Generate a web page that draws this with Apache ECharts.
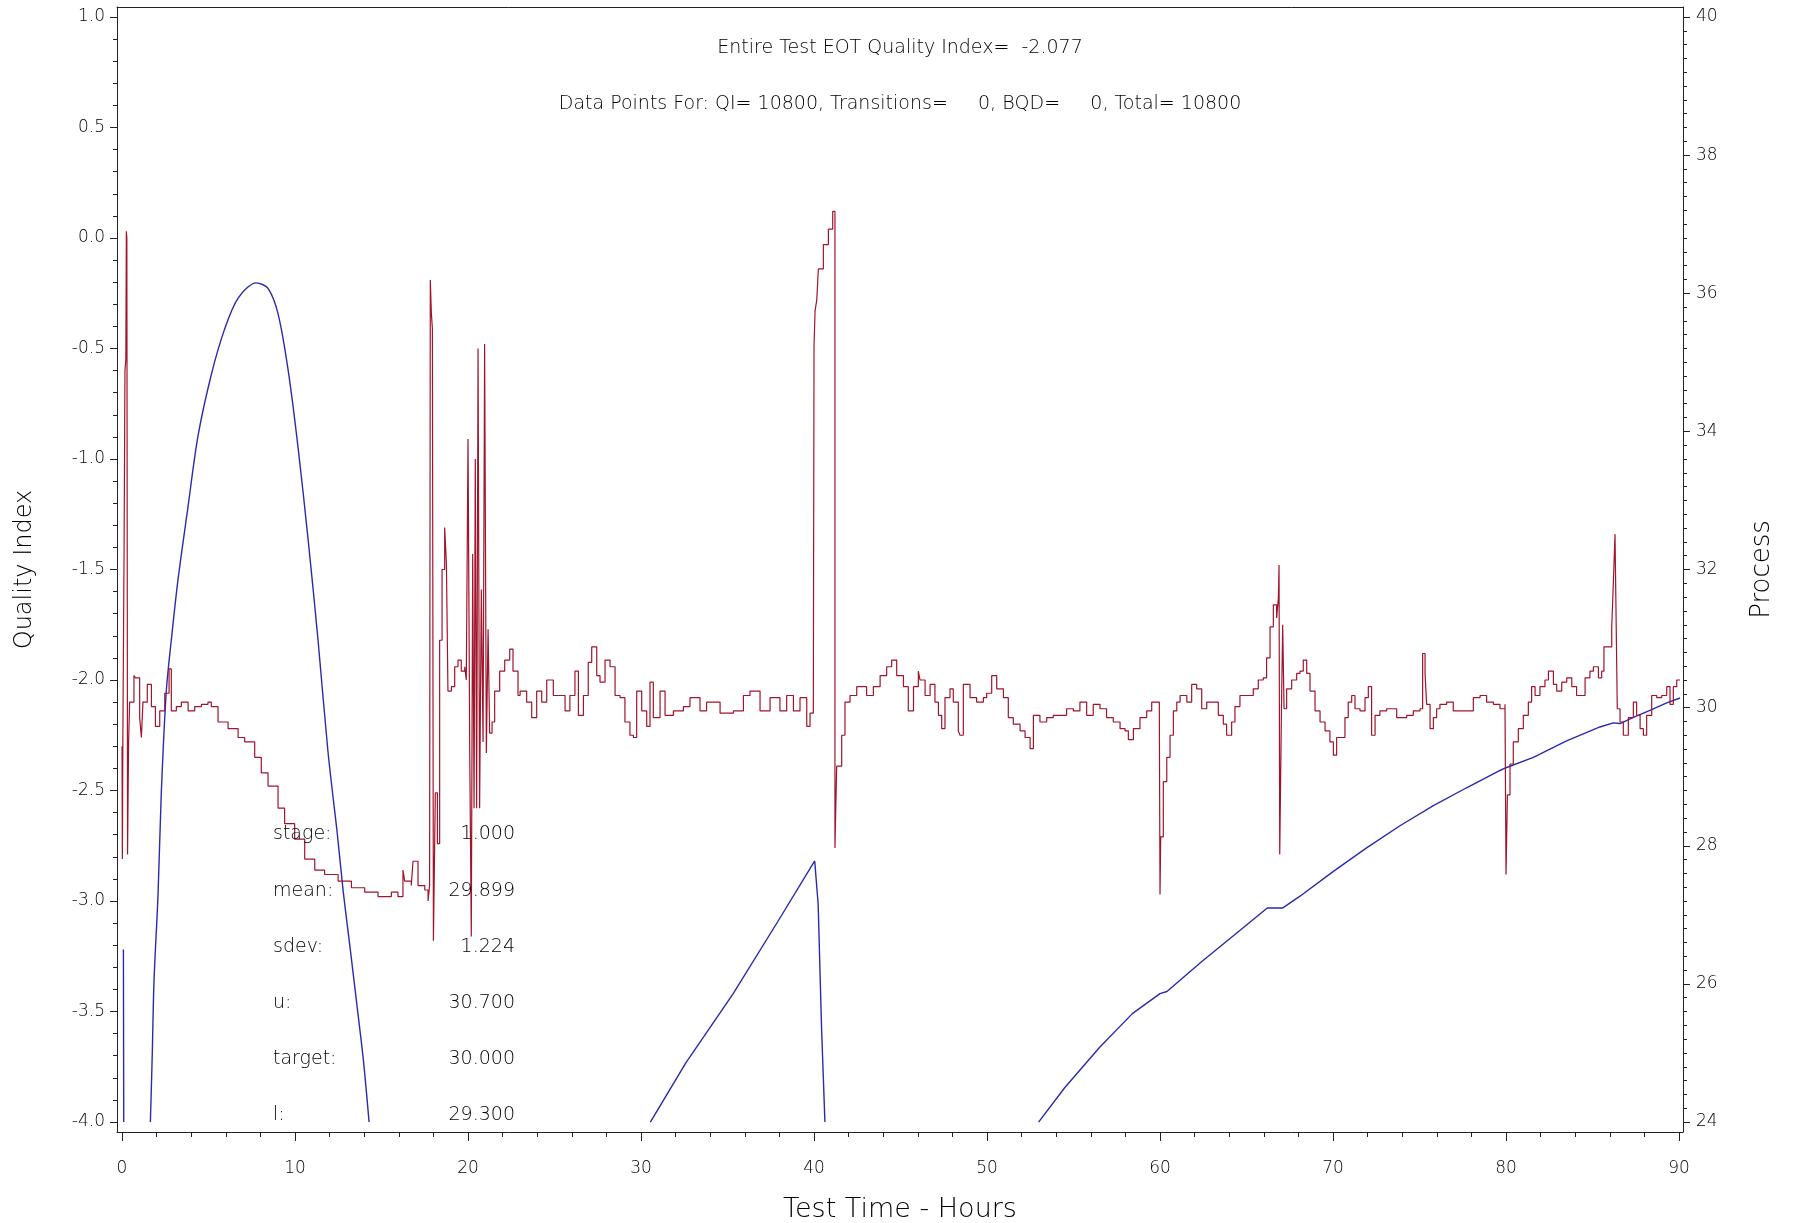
<!DOCTYPE html>
<html>
<head>
<meta charset="utf-8">
<script src="https://cdn.jsdelivr.net/npm/echarts@6.0.0/dist/echarts.min.js"></script>
<style>
html,body{margin:0;padding:0;background:#fff;}
#chart{width:1794px;height:1223px;}
</style>
</head>
<body>
<div id="chart"></div>
<script>
// ---------- data ----------
const xTickLabels = [0, 10, 20, 30, 40, 50, 60, 70, 80, 90];
const qiTickLabels = [-4.0, -3.5, -3.0, -2.5, -2.0, -1.5, -1.0, -0.5, 0.0, 0.5, 1.0];
const procTickLabels = [24, 26, 28, 30, 32, 34, 36, 38, 40];

const titleLine1 = 'Entire Test EOT Quality Index=  -2.077';
const titleLine2 = 'Data Points For: QI= 10800, Transitions=     0, BQD=     0, Total= 10800';

const statNames = ['stage:', 'mean:', 'sdev:', 'u:', 'target:', 'l:'];
const statValues = ['1.000', '29.899', '1.224', '30.700', '30.000', '29.300'];

// Quality index (left axis) – hours and values
const qiHours = [0.0,0.02,0.05,0.12,0.17,0.22,0.25,0.28,0.32,0.38,
0.44,0.69,0.77,1.02,1.12,1.21,1.46,1.70,1.93,2.18,2.47,2.72,2.85,3.14,3.43,3.82,4.20,4.59,4.97,5.16,5.55,6.13,6.71,7.09,7.67,8.05,8.44,9.02,9.40,9.98,10.56,11.14,11.71,12.49,13.26,14.03,14.80,15.57,15.95,16.24,16.34,16.72,16.82,17.11,17.50,17.69,17.78,17.82,17.88,17.94,18.00,18.11,18.23,18.36,18.50,18.65,18.75,18.84,19.04,19.23,19.42,19.61,19.81,19.90,20.00,20.10,20.19,20.27,20.35,20.42,20.50,20.58,20.67,20.77,20.87,20.96,21.06,21.16,21.25,21.39,21.54,21.83,22.12,22.41,22.60,22.89,
23.01,23.39,23.68,23.97,24.26,24.55,24.93,25.32,25.61,25.89,26.18,26.38,26.67,26.95,27.15,27.44,27.63,27.92,28.21,28.50,28.79,29.07,29.36,29.56,29.75,30.04,30.33,30.52,30.71,31.10,31.39,31.87,32.45,32.83,33.41,33.79,34.57,35.34,35.92,36.30,36.88,37.46,38.03,38.42,38.81,39.19,39.58,39.77,39.96,40.00,40.06,40.16,40.25,40.54,40.83,41.08,41.16,41.21,41.31,41.60,41.79,42.08,42.47,43.04,43.43,43.82,44.20,44.49,44.78,45.17,45.45,45.75,46.03,
46.13,46.42,46.71,46.99,47.19,47.38,47.57,47.86,48.05,48.34,48.44,48.63,49.02,49.40,49.79,49.98,50.27,50.56,50.95,51.23,51.52,51.91,52.20,52.49,52.68,53.06,53.45,53.83,54.22,54.60,54.99,55.37,55.76,56.14,56.53,56.91,57.30,57.69,57.98,58.17,58.46,58.84,59.23,59.52,59.81,59.96,60.00,60.04,60.19,60.39,60.58,60.77,60.97,61.16,61.55,61.83,62.12,62.41,62.70,63.08,63.37,63.66,63.85,64.14,64.33,64.62,65.01,65.39,65.68,65.97,66.16,66.36,66.55,66.74,66.84,66.88,66.92,67.01,67.09,67.17,67.32,67.61,67.90,
68.09,68.28,68.48,68.67,68.96,69.25,69.54,69.82,70.02,70.21,70.50,70.69,70.88,71.08,71.27,71.56,71.85,72.04,72.23,72.43,72.71,73.10,73.68,74.26,74.64,75.03,75.18,75.32,75.41,75.61,75.80,75.99,76.18,76.57,76.95,77.34,77.73,78.11,78.50,78.88,79.27,79.65,79.94,80.00,80.08,80.23,80.42,80.71,81.00,81.29,81.48,81.68,81.96,82.25,82.45,82.74,82.93,83.22,83.51,83.80,84.08,84.37,84.57,84.85,85.05,85.34,85.53,85.66,85.91,86.11,86.20,86.30,86.40,86.43,86.59,86.78,87.07,87.36,87.55,87.75,87.94,88.13,88.42,88.71,89.00,89.29,89.48,89.67,89.87,90.06];

const qiValues = [-2.30,-2.81,-2.25,-1.40,-0.60,-0.55,0.03,0.00,-2.79,-2.28,
-2.10,-1.98,-1.99,-2.17,-2.26,-2.10,-2.02,-2.12,-2.21,-2.14,-2.06,-1.95,-2.14,-2.12,-2.10,-2.14,-2.12,-2.11,-2.10,-2.12,-2.19,-2.22,-2.26,-2.28,-2.35,-2.42,-2.48,-2.58,-2.65,-2.72,-2.81,-2.86,-2.88,-2.91,-2.94,-2.96,-2.98,-2.96,-2.98,-2.86,-2.91,-2.93,-2.82,-2.93,-2.95,-3.00,-2.93,-0.19,-0.34,-0.41,-3.18,-2.51,-2.74,-1.82,-1.50,-1.31,-1.47,-2.05,-2.03,-1.94,-1.91,-1.96,-1.94,-2.00,-0.91,-2.33,-3.16,-1.43,-2.58,-1.00,-2.58,-0.50,-2.58,-1.59,-2.28,-0.48,-2.33,-1.77,-2.24,-2.19,-2.05,-1.96,-1.91,-1.86,-1.96,-2.07,
-2.05,-2.10,-2.17,-2.05,-2.10,-2.00,-2.07,-2.07,-2.14,-2.07,-1.96,-2.16,-2.07,-1.92,-1.85,-1.98,-2.01,-1.91,-1.94,-2.07,-2.08,-2.19,-2.25,-2.26,-2.05,-2.14,-2.21,-2.01,-2.17,-2.05,-2.16,-2.14,-2.12,-2.08,-2.14,-2.10,-2.15,-2.14,-2.07,-2.05,-2.14,-2.08,-2.14,-2.07,-2.14,-2.08,-2.21,-2.15,-2.14,-0.49,-0.33,-0.28,-0.14,-0.03,0.04,0.12,0.12,-2.76,-2.39,-2.25,-2.10,-2.07,-2.03,-2.07,-2.03,-1.98,-1.94,-1.91,-1.98,-2.03,-2.14,-2.03,-1.96,
-2.00,-2.07,-2.02,-2.10,-2.16,-2.22,-2.08,-2.04,-2.10,-2.23,-2.25,-2.02,-2.08,-2.10,-2.08,-2.06,-1.98,-2.04,-2.08,-2.17,-2.20,-2.23,-2.26,-2.31,-2.16,-2.19,-2.17,-2.16,-2.16,-2.13,-2.14,-2.10,-2.16,-2.11,-2.13,-2.17,-2.19,-2.22,-2.23,-2.27,-2.22,-2.17,-2.14,-2.10,-2.10,-2.15,-2.97,-2.71,-2.46,-2.35,-2.25,-2.14,-2.10,-2.07,-2.10,-2.02,-2.04,-2.13,-2.10,-2.10,-2.16,-2.20,-2.25,-2.19,-2.12,-2.07,-2.07,-2.04,-2.00,-1.99,-1.90,-1.76,-1.66,-1.72,-1.63,-1.48,-2.79,-2.19,-1.75,-2.13,-2.04,-2.00,-1.97,
-1.96,-1.91,-1.97,-2.05,-2.14,-2.19,-2.23,-2.28,-2.34,-2.26,-2.26,-2.17,-2.10,-2.07,-2.13,-2.14,-2.08,-2.03,-2.25,-2.16,-2.14,-2.13,-2.17,-2.16,-2.14,-2.13,-1.88,-1.97,-2.11,-2.22,-2.17,-2.13,-2.11,-2.10,-2.14,-2.14,-2.14,-2.08,-2.07,-2.10,-2.11,-2.13,-2.11,-2.88,-2.52,-2.38,-2.28,-2.22,-2.16,-2.10,-2.03,-2.07,-2.03,-2.00,-1.96,-2.02,-2.05,-2.01,-1.99,-2.03,-2.07,-2.07,-1.99,-1.96,-1.94,-1.99,-1.96,-1.85,-1.85,-1.76,-1.57,-1.34,-1.94,-2.13,-2.19,-2.25,-2.17,-2.10,-2.16,-2.22,-2.25,-2.16,-2.07,-2.08,-2.07,-2.03,-2.11,-2.03,-2.00,-2.00];

// Process (right axis) – the curved warm-up arc, hours and values
const procArcHours = [1.64,1.75,1.85,2.08,2.27,2.56,2.85,3.24,3.81,4.39,5.16,5.93,6.71,7.76,8.44,9.02,9.60,10.17,10.75,11.33,11.91,12.45,12.79,13.18,13.57,13.95,14.28];
const procArcValues = [24.0,25.0,26.05,27.28,28.76,30.24,30.98,31.86,32.90,33.93,34.82,35.48,35.93,36.15,36.07,35.70,34.89,33.78,32.45,30.98,29.35,28.16,27.33,26.53,25.71,24.9,24.0];
// Process – remaining segments; null = off the bottom of the scale
const procHours = [0.08,0.10,null,
30.54,32.6,35.3,37.9,40.04,40.24,40.44,40.63,null,
52.98,54.5,56.5,58.4,60.0,60.4,62.4,64.4,66.2,67.1,68.09,70.02,71.94,73.87,75.8,77.72,79.65,80.0,81.58,83.5,85.43,86.2,86.59,87.36,88.32,89.29,90.06];
const procValues = [26.5,24.0,null,
24.0,24.86,25.85,26.90,27.78,27.15,25.33,24.0,null,
24.0,24.5,25.08,25.57,25.86,25.89,26.32,26.73,27.1,27.1,27.27,27.63,27.97,28.29,28.58,28.84,29.09,29.13,29.28,29.52,29.72,29.78,29.77,29.86,29.96,30.07,30.14];

// ---------- build ----------
const qiData = qiHours.map((h, i) => [h, qiValues[i]]);
const procArcData = procArcHours.map((h, i) => [h, procArcValues[i]]);
const procData = procHours.map((h, i) => (h === null ? [null, null] : [h, procValues[i]]));

function steps(lo, hi, step, exclude) {
  const out = [];
  const n = Math.round((hi - lo) / step);
  for (let i = 0; i <= n; i++) {
    const v = +(lo + i * step).toFixed(4);
    if (!exclude.some(e => Math.abs(e - v) < 1e-6)) out.push(v);
  }
  return out;
}
const xMinor = steps(0, 90, 2, xTickLabels);
const qiMinor = steps(-4, 1, 0.1, qiTickLabels);
const procMinor = steps(24, 40, 0.2, procTickLabels);

const FONT = 'DejaVu Sans';
const TXT = '#000000';
const AX = '#222222';
const BLUE = '#2a2aae';

const QI_MIN = -4.045, QI_MAX = 1.045;
const P_MIN = 24 + (QI_MIN + 4) * 3.2, P_MAX = 24 + (QI_MAX + 4) * 3.2;
const X_MIN = -0.29, X_MAX = 90.23;

const baseAxisLine = { show: true, onZero: false, lineStyle: { color: AX, width: 1 } };
const noLine = { show: false, onZero: false };

const chart = echarts.init(document.getElementById('chart'), null, { renderer: 'canvas' });

const statGraphics = [];
const rowY = [834, 891, 947, 1003, 1059, 1115];
statNames.forEach((n, i) => {
  statGraphics.push({ type: 'text', x: 273, y: rowY[i], z: 10,
    style: { text: n, fill: TXT, fontFamily: FONT, fontSize: 19, fontWeight: 200, align: 'left', verticalAlign: 'middle' } });
  statGraphics.push({ type: 'text', x: 515, y: rowY[i], z: 10,
    style: { text: statValues[i], fill: TXT, fontFamily: FONT, fontSize: 19, fontWeight: 200, align: 'right', verticalAlign: 'middle' } });
});

chart.setOption({
  animation: false,
  backgroundColor: '#ffffff',
  grid: { left: 117, top: 7, width: 1566, height: 1125, containLabel: false, outerBoundsMode: 'none' },
  graphic: [
    { type: 'text', x: 900, y: 48, style: { text: titleLine1, fill: TXT, fontFamily: FONT, fontSize: 19, fontWeight: 200, align: 'center', verticalAlign: 'middle' } },
    { type: 'text', x: 900, y: 104, style: { text: titleLine2, fill: TXT, fontFamily: FONT, fontSize: 19, fontWeight: 200, align: 'center', verticalAlign: 'middle' } }
  ].concat(statGraphics),
  xAxis: [
    { type: 'value', position: 'bottom', min: X_MIN, max: X_MAX,
      axisLine: baseAxisLine,
      axisTick: { show: true, length: 9, customValues: xTickLabels, lineStyle: { color: AX } },
      axisLabel: { show: true, customValues: xTickLabels, margin: 28, color: TXT, fontFamily: FONT, fontSize: 17, fontWeight: 200 },
      splitLine: { show: false },
      name: 'Test Time - Hours', nameLocation: 'middle', nameGap: 64,
      nameTextStyle: { color: TXT, fontFamily: FONT, fontSize: 27, fontWeight: 200 } },
    { type: 'value', position: 'bottom', min: X_MIN, max: X_MAX,
      axisLine: noLine,
      axisTick: { show: true, length: 5, customValues: xMinor, lineStyle: { color: AX } },
      axisLabel: { show: false }, splitLine: { show: false } },
    { type: 'value', position: 'top', min: X_MIN, max: X_MAX,
      axisLine: baseAxisLine, axisTick: { show: false }, axisLabel: { show: false }, splitLine: { show: false } }
  ],
  yAxis: [
    { type: 'value', position: 'left', min: QI_MIN, max: QI_MAX,
      axisLine: baseAxisLine,
      axisTick: { show: true, length: 7, customValues: qiTickLabels, lineStyle: { color: AX } },
      axisLabel: { show: true, customValues: qiTickLabels, margin: 12, color: TXT, fontFamily: FONT, fontSize: 17, fontWeight: 200,
        formatter: v => v.toFixed(1) },
      splitLine: { show: false },
      name: 'Quality Index', nameLocation: 'middle', nameGap: 80, nameRotate: 90,
      nameTextStyle: { color: TXT, fontFamily: FONT, fontSize: 24, fontWeight: 200 } },
    { type: 'value', position: 'left', min: QI_MIN, max: QI_MAX,
      axisLine: noLine,
      axisTick: { show: true, length: 4, customValues: qiMinor, lineStyle: { color: AX } },
      axisLabel: { show: false }, splitLine: { show: false } },
    { type: 'value', position: 'right', min: P_MIN, max: P_MAX,
      axisLine: baseAxisLine,
      axisTick: { show: true, length: 7, customValues: procTickLabels, lineStyle: { color: AX } },
      axisLabel: { show: true, customValues: procTickLabels, margin: 13, color: TXT, fontFamily: FONT, fontSize: 17, fontWeight: 200 },
      splitLine: { show: false },
      name: 'Process', nameLocation: 'middle', nameGap: 66, nameRotate: 90,
      nameTextStyle: { color: TXT, fontFamily: FONT, fontSize: 26, fontWeight: 200 } },
    { type: 'value', position: 'right', min: P_MIN, max: P_MAX,
      axisLine: noLine,
      axisTick: { show: true, length: 4, customValues: procMinor, lineStyle: { color: AX } },
      axisLabel: { show: false }, splitLine: { show: false } }
  ],
  series: [
    { name: 'Process', type: 'line', xAxisIndex: 0, yAxisIndex: 2, data: procArcData,
      showSymbol: false, clip: true, smooth: 0.3,
      lineStyle: { color: BLUE, width: 1.4 }, z: 2 },
    { name: 'Process', type: 'line', xAxisIndex: 0, yAxisIndex: 2, data: procData,
      showSymbol: false, connectNulls: false, clip: true,
      lineStyle: { color: BLUE, width: 1.4 }, z: 2 },
    { name: 'Quality Index', type: 'line', xAxisIndex: 0, yAxisIndex: 0, data: qiData,
      showSymbol: false, step: 'end', clip: true,
      lineStyle: { color: '#a0142c', width: 1.2 }, z: 3 }
  ]
});
</script>
</body>
</html>
